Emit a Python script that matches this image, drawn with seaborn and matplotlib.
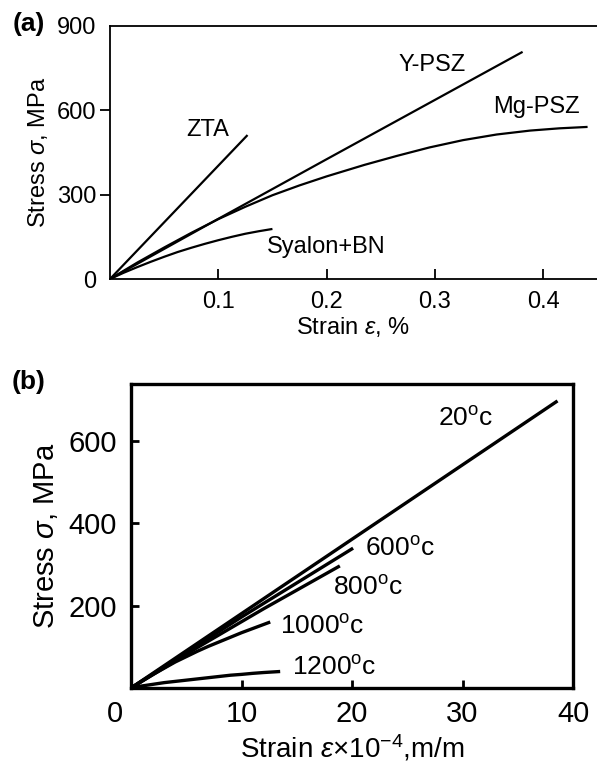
import numpy as np
import pandas as pd
import matplotlib
matplotlib.use("Agg")
import matplotlib.pyplot as plt
import matplotlib.transforms as mtransforms
import seaborn as sns

# ---------------- data: panel (a) ----------------
zta_strain = [0.0, 0.127]
zta_stress = [0.0, 512.0]
ypsz_strain = [0.0, 0.1, 0.2, 0.3, 0.381]
ypsz_stress = [0.0, 214.0, 426.0, 637.0, 808.0]
mgpsz_strain = [0.0, 0.025, 0.05, 0.075, 0.1, 0.125, 0.15, 0.175, 0.2, 0.235,
                0.265, 0.295, 0.326, 0.357, 0.388, 0.415, 0.441]
mgpsz_stress = [0.0, 58.0, 112.0, 164.0, 213.0, 257.0, 298.0, 333.0, 365.0, 406.0,
                438.0, 468.0, 494.0, 514.0, 528.0, 536.0, 541.0]
syalon_strain = [0.0, 0.0125, 0.025, 0.0375, 0.05, 0.0625, 0.075, 0.0875, 0.1,
                 0.1125, 0.125, 0.1375, 0.15]
syalon_stress = [0.0, 22.0, 42.0, 61.0, 79.0, 96.0, 111.0, 125.0, 138.0,
                 150.0, 161.0, 170.0, 178.0]
a_names = ["ZTA", "Y-PSZ", "Mg-PSZ", "Syalon+BN"]
a_label_x = [0.0905, 0.297, 0.394, 0.20]
a_label_y = [530.0, 761.0, 612.0, 114.0]
a_xticks = [0.1, 0.2, 0.3, 0.4]
a_yticks = [0, 300, 600, 900]

# ---------------- data: panel (b) ----------------
t20_strain = [0.0, 38.6]
t20_stress = [0.0, 696.0]
t600_strain = [0.0, 10.0, 20.1]
t600_stress = [0.0, 172.0, 339.0]
t800_strain = [0.0, 6.0, 12.0, 18.9]
t800_stress = [0.0, 98.0, 192.0, 296.0]
t1000_strain = [0.0, 1.0, 2.0, 3.0, 4.0, 5.0, 6.0, 7.0, 8.0, 9.0, 10.0, 11.0, 12.6]
t1000_stress = [0.0, 17.0, 33.0, 48.0, 63.0, 76.0, 89.0, 101.0, 112.0, 123.0, 134.0, 144.0, 160.0]
t1200_strain = [0.0, 1.0, 2.0, 3.0, 4.0, 5.0, 6.0, 7.0, 8.0, 9.0, 10.0, 11.0, 12.0, 13.5]
t1200_stress = [0.0, 5.0, 9.0, 13.0, 16.0, 19.0, 22.0, 25.0, 28.0, 31.0, 33.0, 35.5, 37.5, 40.0]
b_names = ["20", "600", "800", "1000", "1200"]
b_label_x = [30.3, 24.3, 21.4, 17.3, 18.4]
b_label_y = [652.0, 337.0, 242.0, 148.0, 48.0]
b_xticks = [0, 10, 20, 30, 40]
b_yticks = [200, 400, 600]

# ---------------- build tables ----------------
def build(names, xs, ys):
    frames = []
    for n, x, y in zip(names, xs, ys):
        frames.append(pd.DataFrame({"strain": x, "stress": y, "series": n}))
    return pd.concat(frames, ignore_index=True)

dfa = build(a_names,
            [zta_strain, ypsz_strain, mgpsz_strain, syalon_strain],
            [zta_stress, ypsz_stress, mgpsz_stress, syalon_stress])
dfb = build(b_names,
            [t20_strain, t600_strain, t800_strain, t1000_strain, t1200_strain],
            [t20_stress, t600_stress, t800_stress, t1000_stress, t1200_stress])

sns.set_style("white")
plt.rcParams["font.family"] = ["Liberation Sans", "DejaVu Sans"]
plt.rcParams["mathtext.fontset"] = "custom"
plt.rcParams["mathtext.rm"] = "Liberation Sans"
plt.rcParams["mathtext.it"] = "Liberation Sans:italic"
plt.rcParams["mathtext.bf"] = "Liberation Sans:bold"
plt.rcParams["lines.solid_capstyle"] = "butt"
plt.rcParams["lines.solid_joinstyle"] = "round"
plt.rcParams["text.color"] = "black"
plt.rcParams["axes.labelcolor"] = "black"
plt.rcParams["xtick.color"] = "black"
plt.rcParams["ytick.color"] = "black"

W, H = 597, 767
fig = plt.figure(figsize=(W / 100, H / 100), dpi=100)

def rect(l, r, t, b):
    return [l / W, 1 - b / H, (r - l) / W, (b - t) / H]

# ---------------- panel (a) ----------------
axa = fig.add_axes(rect(110, 597, 26, 279))
sns.lineplot(data=dfa, x="strain", y="stress", units="series", estimator=None,
             sort=False, color="black", lw=1.6, ax=axa, legend=False)
axa.set_xlim(0, 0.4497)
axa.set_ylim(0, 900)
for s in ["left", "bottom", "top"]:
    axa.spines[s].set_visible(True)
    axa.spines[s].set_color("black")
    axa.spines[s].set_linewidth(1.3)
axa.spines["right"].set_visible(False)
axa.set_xticks(a_xticks)
axa.set_xticklabels(["0.1", "0.2", "0.3", "0.4"])
axa.set_yticks(a_yticks)
axa.set_yticklabels([str(v) for v in a_yticks])
axa.tick_params(axis="x", direction="in", length=7, width=1.3, pad=9,
                labelsize=17, bottom=True, top=False, colors="black")
axa.tick_params(axis="y", direction="out", length=7, width=1.3, pad=3,
                labelsize=17, left=True, colors="black")
yt = axa.yaxis.get_major_ticks()
yt[0].tick1line.set_visible(False)
yt[-1].tick1line.set_visible(False)
axa.set_xlabel(r"Strain $\it{\varepsilon}$, %", fontsize=17, labelpad=1, color="black")
axa.set_ylabel(r"Stress $\it{\sigma}$, MPa", fontsize=17, labelpad=5, color="black")
for n, x, y in zip(a_names, a_label_x, a_label_y):
    axa.text(x, y, n, fontsize=17, ha="center", va="center", color="black")
fig.text(29 / W, 1 - 24 / H, "(a)", fontsize=19, fontweight="bold",
         ha="center", va="center", color="black")

# ---------------- panel (b) ----------------
axb = fig.add_axes(rect(131, 573, 384, 688))
sns.lineplot(data=dfb, x="strain", y="stress", units="series", estimator=None,
             sort=False, color="black", lw=2.4, ax=axb, legend=False)
axb.set_xlim(0, 40)
axb.set_ylim(0, 737)
for s in ["left", "bottom", "top", "right"]:
    axb.spines[s].set_visible(True)
    axb.spines[s].set_color("black")
    axb.spines[s].set_linewidth(2.4)
axb.set_xticks(b_xticks)
axb.set_xticklabels([str(v) for v in b_xticks])
axb.set_yticks(b_yticks)
axb.set_yticklabels([str(v) for v in b_yticks])
axb.tick_params(axis="x", direction="in", length=6, width=2, pad=9,
                labelsize=21, bottom=True, colors="black")
axb.tick_params(axis="y", direction="in", length=6, width=2, pad=10,
                labelsize=21, left=True, colors="black")
xt = axb.xaxis.get_major_ticks()
xt[0].tick1line.set_visible(False)
lab0 = axb.get_xticklabels()[0]
lab0.set_transform(lab0.get_transform() +
                   mtransforms.ScaledTranslation(-16 / 100, 0, fig.dpi_scale_trans))
axb.set_xlabel(r"Strain $\it{\varepsilon}$$\times$10$^{-4}$,m/m", fontsize=20, labelpad=3,
               color="black")
axb.set_ylabel(r"Stress $\it{\sigma}$, MPa", fontsize=21, labelpad=6, color="black")
for n, x, y in zip(b_names, b_label_x, b_label_y):
    axb.text(x, y, n + r"$^{\rm o}$c", fontsize=19, ha="center", va="center",
             color="black")
fig.text(29 / W, 1 - 382 / H, "(b)", fontsize=19, fontweight="bold",
         ha="center", va="center", color="black")

fig.savefig("out.png", dpi=100)
